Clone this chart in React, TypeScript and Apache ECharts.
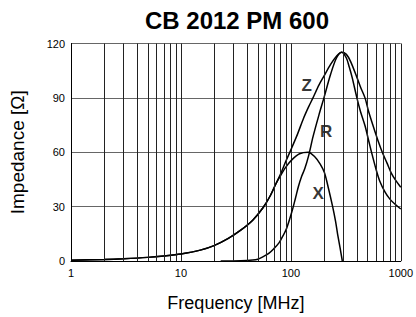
import React, { useEffect, useRef } from "react";
import * as echarts from "echarts";

const TITLE = "CB 2012 PM 600";
const X_NAME = "Frequency [MHz]";
const Y_NAME = "Impedance [Ω]";
const Y_TICKS = [0, 30, 60, 90, 120];
const MINOR_FREQS = [2, 3, 4, 5, 6, 7, 8, 9, 20, 30, 40, 50, 60, 70, 80, 90, 200, 300, 400, 500, 600, 700, 800, 900];

const zData: [number, number][] = [
  [1, 0.4], [2, 0.85], [3, 1.25], [5, 2.0], [7, 2.8], [10, 3.9], [15, 6.0], [20, 8.5], [27, 12.5],
  [35, 17], [45, 22.5], [56, 29.5], [65, 36], [73, 42.5], [80, 47.5], [90, 55], [102, 62.5],
  [115, 70], [130, 78.5], [145, 85], [159, 90], [180, 97], [200, 102], [230, 108.5], [260, 113],
  [290, 115.2], [320, 114], [350, 110], [399, 101.3], [430, 96], [473, 90], [510, 82.5],
  [560, 74.6], [620, 66.5], [679, 60], [750, 54], [820, 48.5], [903, 44.3], [1000, 40.7],
];

const xData: [number, number][] = [
  [1, 0.4], [2, 0.85], [3, 1.25], [5, 2.0], [7, 2.8], [10, 3.9], [15, 6.0], [20, 8.5], [27, 12.5],
  [35, 17], [45, 22.5], [56, 29.5], [65, 36], [73, 42.5], [80, 46.8], [90, 51.8], [102, 55.8],
  [120, 59.2], [144, 60], [165, 57.5], [185, 53.5], [202, 48.8], [220, 40], [240, 30],
  [255, 22], [266, 15], [280, 7.5], [294, 0],
];

const rData: [number, number][] = [
  [23, 0], [35, 0.1], [45, 0.5], [50, 1], [56, 2.4], [63, 4.2], [70, 6.8], [78, 10], [85, 14],
  [92, 18.4], [102, 27], [110, 34.5], [117, 41], [125, 46.5], [134, 51], [145, 58], [159, 68.5],
  [180, 80.5], [200, 90], [230, 103], [260, 112], [290, 115.2], [320, 112], [340, 107],
  [361, 101.3], [399, 90], [430, 82.5], [473, 74.6], [510, 66.5], [542, 60], [590, 51.5],
  [642, 44.3], [720, 38], [800, 34], [900, 31], [1000, 28.7],
];

const CURVE_LABELS: { name: string; f: number; v: number }[] = [
  { name: "Z", f: 139, v: 96.8 },
  { name: "R", f: 209, v: 71.6 },
  { name: "X", f: 177, v: 37.4 },
];

const FONT = "'Liberation Sans', Arial, Helvetica, sans-serif";

export default function App() {
  const ref = useRef<HTMLDivElement>(null);
  useEffect(() => {
    document.body.style.margin = "0";
    const chart = echarts.init(ref.current!, undefined, { renderer: "svg" });
    const lineStyle = { color: "#000", width: 1.5 };
    const curve = (name: string, data: [number, number][]) => ({
      name,
      type: "line",
      data,
      smooth: 0.3,
      symbol: "none",
      lineStyle,
      z: 3,
    });
    chart.setOption({
      animation: false,
      backgroundColor: "#fff",
      title: {
        text: TITLE,
        left: 232,
        textAlign: "center",
        top: 3,
        textStyle: { fontFamily: FONT, fontSize: 24, fontWeight: "bold", color: "#000" },
      },
      grid: { left: 63, right: 14.5, top: 43.5, bottom: 48.5 },
      xAxis: {
        type: "log",
        logBase: 10,
        min: 1,
        max: 1000,
        name: X_NAME,
        nameLocation: "middle",
        nameGap: 33,
        nameTextStyle: { fontFamily: FONT, fontSize: 18, color: "#000" },
        axisLine: { show: true, lineStyle: { color: "#000", width: 1 } },
        axisTick: { show: false },
        axisLabel: {
          fontFamily: FONT,
          fontSize: 11,
          color: "#000",
          margin: 6,
          formatter: (v: number) => String(Math.round(v)),
        },
        splitLine: { show: true, lineStyle: { color: "#222", width: 1 } },
      },
      yAxis: {
        type: "value",
        min: Y_TICKS[0],
        max: Y_TICKS[Y_TICKS.length - 1],
        interval: 30,
        name: Y_NAME,
        nameLocation: "middle",
        nameGap: 44,
        nameTextStyle: { fontFamily: FONT, fontSize: 19, color: "#000" },
        axisLine: { show: true, lineStyle: { color: "#000", width: 1 } },
        axisTick: { show: false },
        axisLabel: { fontFamily: FONT, fontSize: 11, color: "#000", margin: 6 },
        splitLine: { show: true, lineStyle: { color: "#666", width: 1 } },
      },
      series: [
        {
          name: "grid",
          type: "line",
          data: [[1, 0]],
          symbol: "none",
          lineStyle: { opacity: 0 },
          silent: true,
          z: 1,
          markLine: {
            silent: true,
            symbol: "none",
            label: { show: false },
            lineStyle: { color: "#222", width: 1, type: "solid" },
            data: MINOR_FREQS.map((f) => ({ xAxis: f })),
          },
        },
        curve("Z", zData),
        curve("X", xData),
        curve("R", rData),
        {
          name: "labels",
          type: "scatter",
          data: CURVE_LABELS.map((l) => ({ value: [l.f, l.v], name: l.name })),
          symbolSize: 0,
          z: 4,
          label: {
            show: true,
            position: "inside",
            formatter: (p: any) => p.name,
            fontFamily: FONT,
            fontSize: 17,
            fontWeight: "bold",
            color: "#000",
          },
        },
      ],
    });
    return () => chart.dispose();
  }, []);
  return (
    <div
      ref={ref}
      style={{ position: "absolute", left: 0, top: 0, width: 416, height: 317 }}
    />
  );
}
